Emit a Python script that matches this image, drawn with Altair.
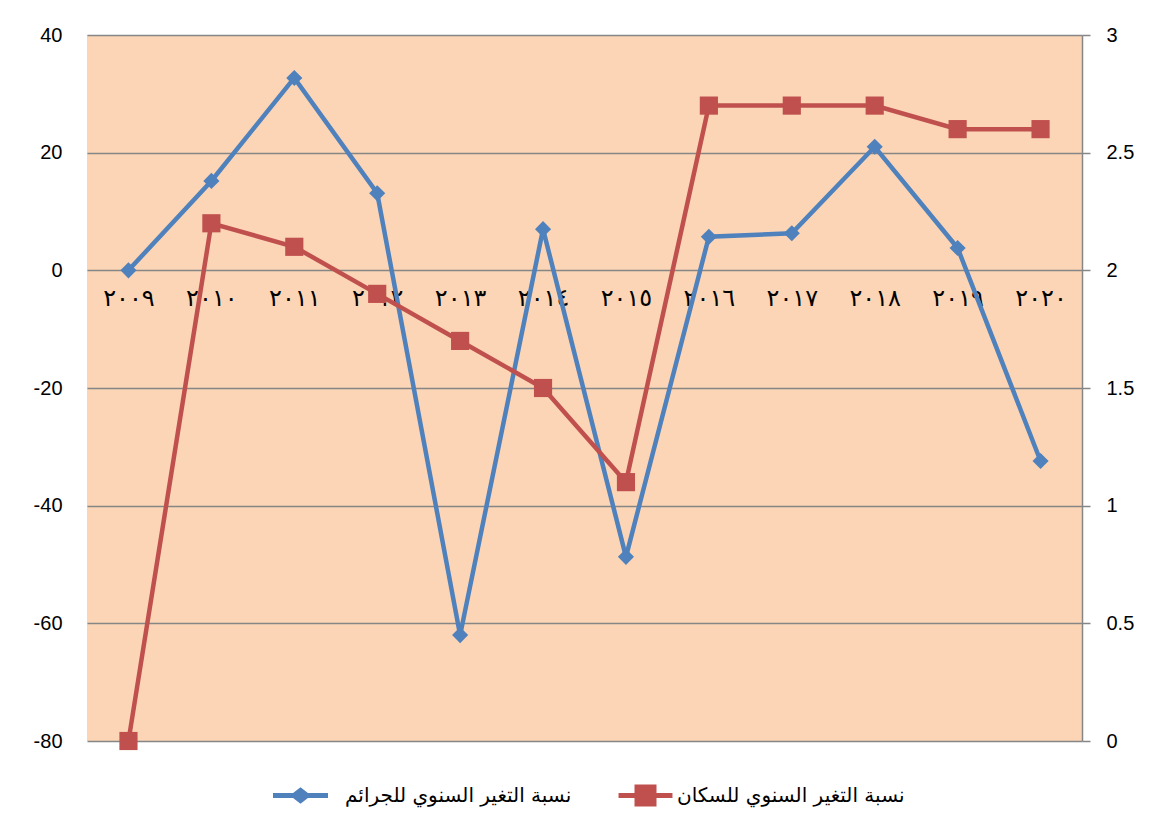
import altair as alt
import pandas as pd

years = ["٢٠٠٩", "٢٠١٠", "٢٠١١", "٢٠١٢", "٢٠١٣", "٢٠١٤",
         "٢٠١٥", "٢٠١٦", "٢٠١٧", "٢٠١٨", "٢٠١٩", "٢٠٢٠"]
crime_change = [0, 15.2, 32.7, 13.1, -62.0, 7.0, -48.7, 5.7, 6.3, 21.0, 3.8, -32.4]
pop_change = [0, 2.2, 2.1, 1.9, 1.7, 1.5, 1.1, 2.7, 2.7, 2.7, 2.6, 2.6]

crime_label = "نسبة التغير السنوي للجرائم"
pop_label = "نسبة التغير السنوي للسكان"
blue = "#4F81BD"
red = "#C0504D"

df_c = pd.DataFrame({"year": years, "value": crime_change, "series": crime_label})
df_p = pd.DataFrame({"year": years, "value": pop_change, "series": pop_label})

# legend symbols: line with a marker (coordinates in units of half the symbol box)
diamond_sym = ("M-1,-0.09 L-0.27,-0.09 L0,-0.3 L0.27,-0.09 L1,-0.09 L1,0.09 "
               "L0.27,0.09 L0,0.3 L-0.27,0.09 L-1,0.09 Z")
square_sym = ("M-0.98,-0.09 L-0.4,-0.09 L-0.4,-0.4 L0.4,-0.4 L0.4,-0.09 L0.98,-0.09 "
              "L0.98,0.09 L0.4,0.09 L0.4,0.4 L-0.4,0.4 L-0.4,0.09 L-0.98,0.09 Z")

xenc = alt.X("year:N", sort=years,
             scale=alt.Scale(type="point", padding=0.5),
             axis=alt.Axis(title=None, orient="bottom", offset=-471, domain=False,
                           ticks=False, grid=False, labelAngle=0, labelFontSize=24,
                           labelPadding=16, labelFont="DejaVu Sans", labelColor="#000"))


def make_color(label, col, sym, lx, loff):
    return alt.Color("series:N",
                     scale=alt.Scale(domain=[label], range=[col]),
                     legend=alt.Legend(
                         title=None, orient="none", direction="horizontal",
                         legendX=lx, legendY=733,
                         labelFontSize=20, labelFont="DejaVu Sans",
                         labelColor="#000", labelOffset=loff,
                         symbolSize=3025, labelLimit=400,
                         symbolType=sym, symbolFillColor=col,
                         symbolStrokeColor=col, symbolStrokeWidth=0,
                         symbolOpacity=1))


label_expr = "'' + datum.value"
yleft = alt.Y("value:Q",
              scale=alt.Scale(domain=[-80, 40], nice=False, zero=False),
              axis=alt.Axis(title=None, values=[-80, -60, -40, -20, 0, 20, 40],
                            labelExpr=label_expr,
                            domain=False, ticks=False, grid=True, gridColor="#868686",
                            gridWidth=1.5, labelFontSize=20, labelPadding=25,
                            labelColor="#000", labelFont="Liberation Sans"))
yright = alt.Y("value:Q",
               scale=alt.Scale(domain=[0, 3], nice=False, zero=False),
               axis=alt.Axis(title=None, orient="right", values=[0, 0.5, 1, 1.5, 2, 2.5, 3],
                             labelExpr=label_expr,
                             domain=True, domainColor="#868686", domainWidth=1.5,
                             ticks=True, tickColor="#868686", tickSize=8, tickWidth=1.5,
                             grid=False, labelFontSize=20, labelPadding=16,
                             labelColor="#000", labelFont="Liberation Sans"))

base_c = alt.Chart(df_c).encode(x=xenc, y=yleft,
                                color=make_color(crime_label, blue, diamond_sym, 186, 17))
crime_layer = alt.layer(
    base_c.mark_line(strokeWidth=4.5),
    base_c.mark_point(filled=True, size=260, opacity=1, shape="diamond"),
)

base_p = alt.Chart(df_p).encode(x=xenc, y=yright,
                                color=make_color(pop_label, red, square_sym, 531, 4))
pop_layer = alt.layer(
    base_p.mark_line(strokeWidth=4.5),
    base_p.mark_point(filled=True, size=330, opacity=1, shape="square"),
)

chart = alt.layer(crime_layer, pop_layer).resolve_scale(
    y="independent", color="independent"
).properties(
    width=995, height=706,
    autosize=alt.AutoSizeParams(type="none"),
    padding={"left": 79, "top": 27, "right": 65, "bottom": 86},
).configure_view(fill="#FBD5B5", stroke=None)

chart.save("out.html", embed_options={"renderer": "svg", "actions": False})
